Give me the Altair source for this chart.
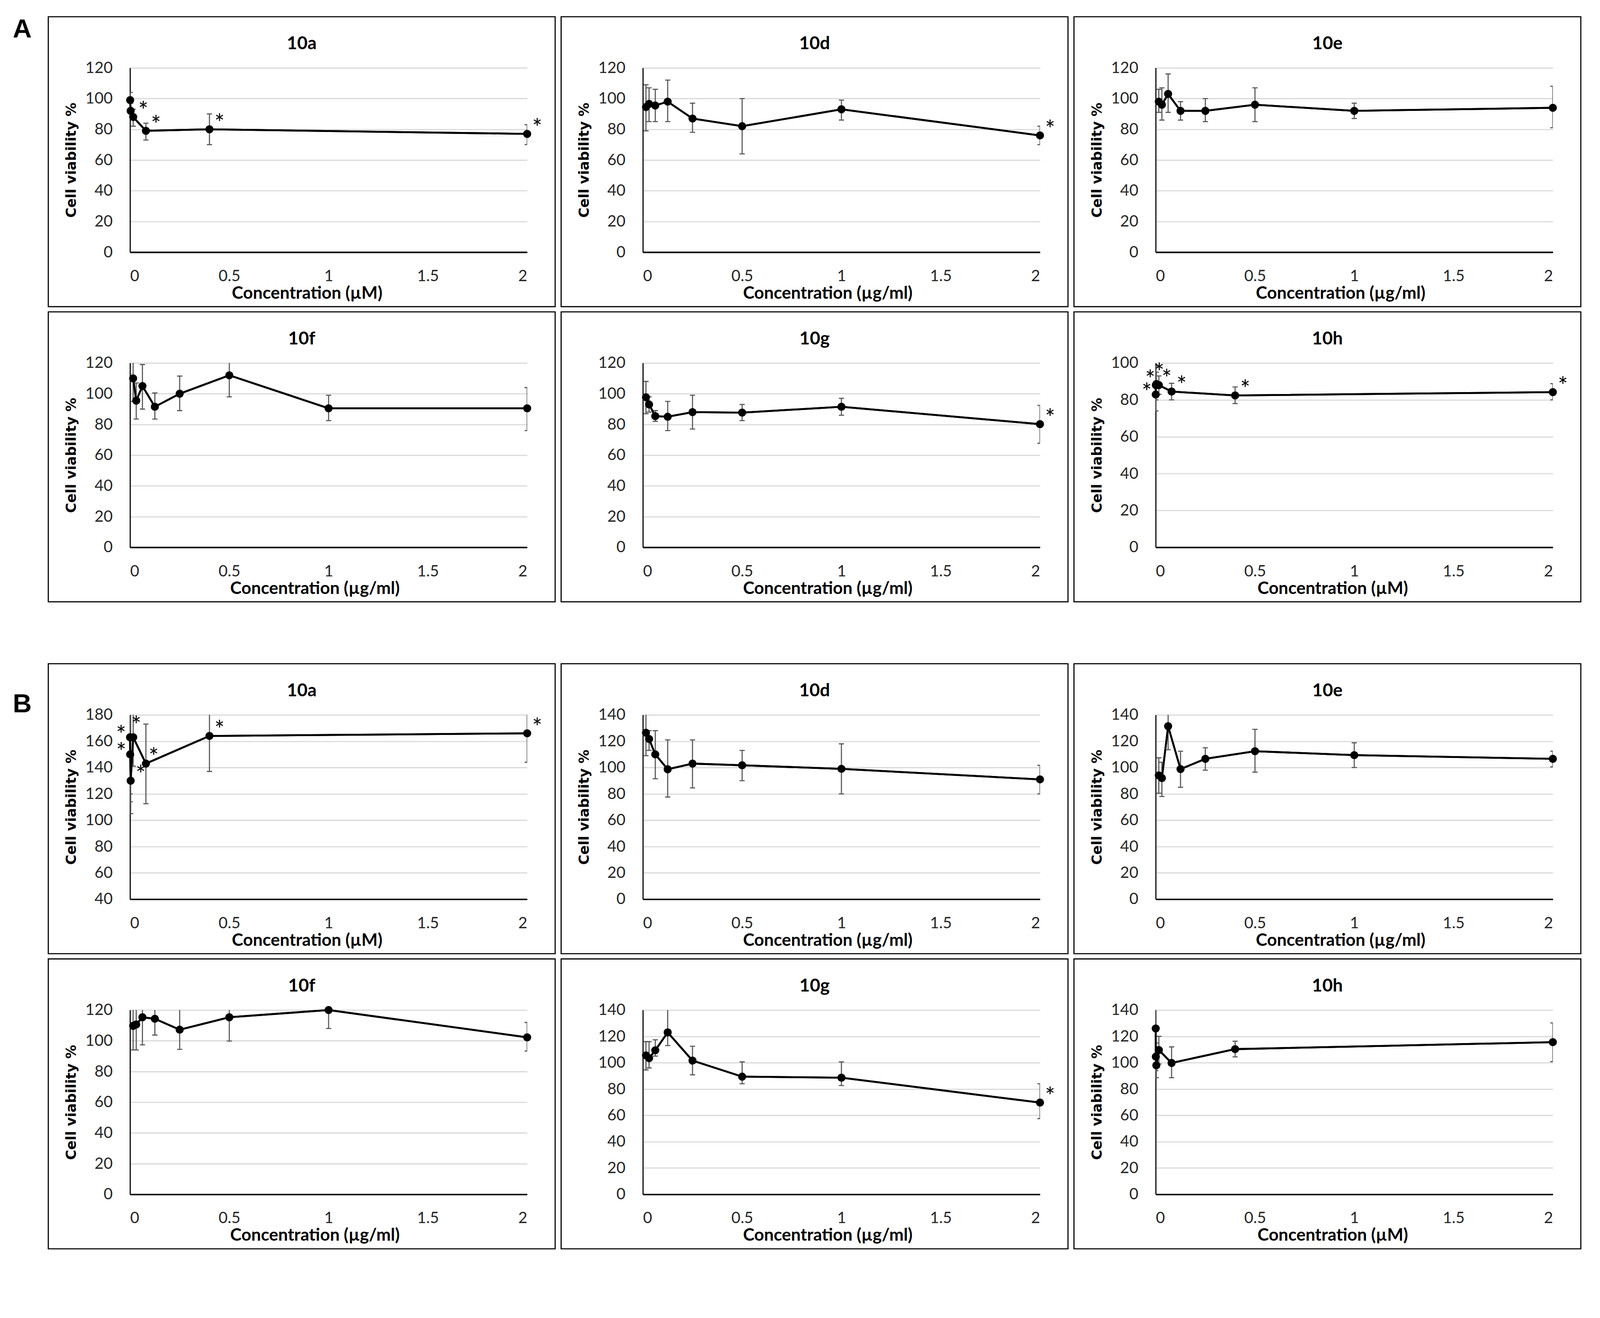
import altair as alt
import pandas as pd

# ---------------- data ----------------
X_UM = [0.000128, 0.00064, 0.0032, 0.016, 0.08, 0.4, 2]          # µM series (7 conc.)
X_UM6 = [0.00064, 0.0032, 0.016, 0.08, 0.4, 2]                   # µM series (6 conc.)
X_UG = [0.015625, 0.03125, 0.0625, 0.125, 0.25, 0.5, 1, 2]       # µg/ml series

# Group A
A10a_y = [99, 92, 88, 79, 80, 77]
A10a_lo = [94, 87, 82, 73, 70, 70]
A10a_hi = [104, 97, 93, 84, 90, 83]
A10a_star = ["", "", "r", "r", "r", "r"]

A10d_y = [94.5, 96.5, 95.5, 98, 87, 82, 93, 76]
A10d_lo = [79, 85, 85, 85, 78, 64, 86, 70]
A10d_hi = [109, 107, 106, 112, 97, 100, 99, 82]
A10d_star = ["", "", "", "", "", "", "", "r"]

A10e_y = [98, 96, 103, 92, 92, 96, 92, 94]
A10e_lo = [91, 86, 91, 86, 85, 85, 87, 81]
A10e_hi = [106, 107, 116, 98, 100, 107, 97, 108]
A10e_star = ["", "", "", "", "", "", "", ""]

A10f_y = [110, 95.5, 105, 91.5, 100, 112, 90.5, 90.5]
A10f_lo = [95, 83.5, 90, 83.5, 89, 98, 82.5, 76]
A10f_hi = [125, 107, 119, 100.5, 111.5, 125, 99, 104]
A10f_star = ["", "", "", "", "", "", "", ""]

A10g_y = [97.7, 93, 85.4, 85, 88, 87.7, 91.5, 80.2]
A10g_lo = [87, 88, 82, 76, 77, 82.5, 86, 67.7]
A10g_hi = [108, 98, 89, 95, 99, 93, 97, 92.4]
A10g_star = ["", "", "", "", "", "", "", "r"]

A10h_y = [82.9, 88, 88.6, 88, 84.5, 82.4, 84.2]
A10h_lo = [74, 80, 82, 83, 80, 78, 80]
A10h_hi = [90, 98.4, 95, 93, 89, 87, 88.8]
A10h_star = ["l", "ul", "u", "ur", "r", "r", "r"]

# Group B
B10a_y = [163, 150, 130, 163, 143, 164, 166]
B10a_lo = [120, 114, 105, 141, 112.5, 137, 144]
B10a_hi = [185, 185, 185, 185, 173, 185, 185]
B10a_star = ["l", "l", "r", "u", "ur", "r", "r"]

B10d_y = [126.4, 121.7, 110, 98.7, 103, 101.7, 99, 91]
B10d_lo = [109, 113, 91.5, 77.6, 84.5, 90, 80, 80]
B10d_hi = [145, 128, 128, 121, 121, 113, 118, 101.7]
B10d_star = ["", "", "", "", "", "", "", ""]

B10e_y = [94, 92, 131.4, 98.8, 106.6, 112.4, 109.4, 106.6]
B10e_lo = [80.5, 78, 113.5, 85, 98, 96.5, 100, 100.5]
B10e_hi = [107.4, 104, 145, 112.4, 115, 129, 118.8, 112.4]
B10e_star = ["", "", "", "", "", "", "", ""]

B10f_y = [109.7, 110.6, 115.3, 114.3, 107.2, 115.3, 120, 102.2]
B10f_lo = [94, 94, 97.3, 103.7, 94.4, 99.8, 108, 93.3]
B10f_hi = [125, 125, 125, 125, 125, 125, 125, 111.9]
B10f_star = ["", "", "", "", "", "", "", ""]

B10g_y = [105.5, 103.4, 109.4, 123, 101.6, 89.4, 88.6, 69.7]
B10g_lo = [94.5, 96, 105, 113, 90.8, 84, 82.6, 57.5]
B10g_hi = [116, 116, 117.4, 145, 112.5, 100.6, 100.6, 84]
B10g_star = ["", "", "", "", "", "", "", "r"]

B10h_y = [126, 104.6, 98, 109.6, 99.8, 110.3, 115.6]
B10h_lo = [112, 94, 88.6, 99, 88.6, 104.4, 100.8]
B10h_hi = [145, 115, 107, 120, 112, 116.3, 130.2]
B10h_star = ["", "", "", "", "", "", ""]

X_TICKS = [0, 0.5, 1, 1.5, 2]

# ---------------- styling / layout ----------------
W, H = 1064, 494
BOX_L, BOX_R, BOX_T, BOX_B = -219, W + 75, -137, H + 146
STAR_OFF = {"r": (27, -13), "l": (-24, -3), "u": (8, -28), "ul": (-15, -12), "ur": (21, -14)}
XTITLE_X = {"µM": 474, "µg/ml": 495}
ONE = pd.DataFrame({"k": [0]})


def panel(name, xs, ys, lo, hi, stars, ymin, ymax, unit, ytitle,
          label="A", label_dy=-102, label_vis=False):
    df = pd.DataFrame({"x": xs, "y": ys, "lo": lo, "hi": hi, "star": stars})
    xsc = alt.Scale(domain=[0, 2], nice=False, zero=False)
    ysc = alt.Scale(domain=[ymin, ymax], nice=False, zero=False)
    xax = alt.Axis(values=X_TICKS, format="~g", grid=False, ticks=False, tickSize=0,
                   labelPadding=44, labelFontSize=42, labelFont="Lato", labelColor="#262626",
                   domainColor="black", domainWidth=4,
                   title=f"Concentration ({unit})", titleFont="Lato", titleFontSize=46,
                   titleFontWeight="bold", titleColor="black", titleX=XTITLE_X[unit],
                   titleY=110, titleBaseline="middle", titleAlign="center")
    yargs = dict(values=list(range(ymin, ymax + 1, 20)), grid=True, gridColor="#d9d9d9",
                 gridWidth=3, ticks=False, tickSize=0, labelPadding=47, labelFontSize=42,
                 labelFont="Lato", labelColor="#262626", domainColor="black", domainWidth=3)
    if ytitle:
        yax = alt.Axis(title="Cell viability %", titleFont="DejaVu Sans", titleFontSize=37,
                       titleFontWeight="bold", titleColor="black", titleX=-157, titleY=H / 2,
                       titleBaseline="middle", titleAlign="center", titleAngle=270, **yargs)
    else:
        yax = alt.Axis(title=None, **yargs)

    base = alt.Chart(df)
    line = base.mark_line(color="black", strokeWidth=5).encode(
        x=alt.X("x:Q", scale=xsc, axis=xax), y=alt.Y("y:Q", scale=ysc, axis=yax))
    err = base.mark_rule(color="#5a5a5a", strokeWidth=3, clip=True).encode(
        x=alt.X("x:Q", scale=xsc), y=alt.Y("lo:Q", scale=ysc), y2="hi:Q")
    cap_lo = base.mark_tick(orient="horizontal", size=14, thickness=3, color="#5a5a5a",
                            clip=True, opacity=1).encode(x="x:Q", y="lo:Q")
    cap_hi = base.mark_tick(orient="horizontal", size=14, thickness=3, color="#5a5a5a",
                            clip=True, opacity=1).encode(x="x:Q", y="hi:Q")
    pts = base.mark_circle(color="black", size=470, opacity=1).encode(x="x:Q", y="y:Q")
    layers = [line, err, cap_lo, cap_hi, line, pts]
    for side, (dx, dy) in STAR_OFF.items():
        if side in stars:
            layers.append(base.transform_filter(alt.datum.star == side).mark_text(
                text="*", font="Lato", fontSize=64, color="black", align="center",
                baseline="middle", dx=dx, dy=dy).encode(x="x:Q", y="y:Q"))
    box = alt.Chart(ONE).mark_rect(fill="transparent", stroke="black", strokeWidth=3).encode(
        x=alt.value(BOX_L), x2=alt.value(BOX_R), y=alt.value(BOX_T), y2=alt.value(BOX_B))
    ttl = alt.Chart(ONE).mark_text(text=name, font="Lato", fontSize=48, fontWeight="bold",
                                   color="black", align="center", baseline="middle").encode(
        x=alt.value((BOX_L + BOX_R) / 2), y=alt.value(-64))
    layers += [box, ttl]
    if label is not None:
        lab = alt.Chart(ONE).mark_text(text=label, font="Liberation Sans", fontSize=70,
                                       fontWeight="bold", color="black", align="left",
                                       baseline="middle", opacity=1 if label_vis else 0).encode(
            x=alt.value(-314), y=alt.value(label_dy))
        layers.append(lab)
    return alt.layer(*layers).properties(width=W, height=H)


UM, UG = "µM", "µg/ml"
COLSP = 12
rowA1 = alt.hconcat(
    panel("10a", X_UM6, A10a_y, A10a_lo, A10a_hi, A10a_star, 0, 120, UM, True, "A", -102, True),
    panel("10d", X_UG, A10d_y, A10d_lo, A10d_hi, A10d_star, 0, 120, UG, True, None),
    panel("10e", X_UG, A10e_y, A10e_lo, A10e_hi, A10e_star, 0, 120, UG, True, None),
    spacing=COLSP)
rowA2 = alt.hconcat(
    panel("10f", X_UG, A10f_y, A10f_lo, A10f_hi, A10f_star, 0, 120, UG, True, "A", -102, False),
    panel("10g", X_UG, A10g_y, A10g_lo, A10g_hi, A10g_star, 0, 120, UG, False, None),
    panel("10h", X_UM, A10h_y, A10h_lo, A10h_hi, A10h_star, 0, 100, UM, True, None),
    spacing=COLSP)
rowB1 = alt.hconcat(
    panel("10a", X_UM, B10a_y, B10a_lo, B10a_hi, B10a_star, 40, 180, UM, True, "B", -28, True),
    panel("10d", X_UG, B10d_y, B10d_lo, B10d_hi, B10d_star, 0, 140, UG, True, None),
    panel("10e", X_UG, B10e_y, B10e_lo, B10e_hi, B10e_star, 0, 140, UG, True, None),
    spacing=COLSP)
rowB2 = alt.hconcat(
    panel("10f", X_UG, B10f_y, B10f_lo, B10f_hi, B10f_star, 0, 120, UG, True, "B", -28, False),
    panel("10g", X_UG, B10g_y, B10g_lo, B10g_hi, B10g_star, 0, 140, UG, False, None),
    panel("10h", X_UM, B10h_y, B10h_lo, B10h_hi, B10h_star, 0, 140, UM, True, None),
    spacing=COLSP)

groupA = alt.vconcat(rowA1, rowA2, spacing=10)
groupB = alt.vconcat(rowB1, rowB2, spacing=10)

chart = alt.vconcat(groupA, groupB, spacing=162).properties(
    padding={"left": 25, "top": -41, "right": 41, "bottom": -25},
    background="white",
).configure_view(stroke="transparent")

chart.save("out.html", embed_options={"renderer": "svg", "actions": False})
